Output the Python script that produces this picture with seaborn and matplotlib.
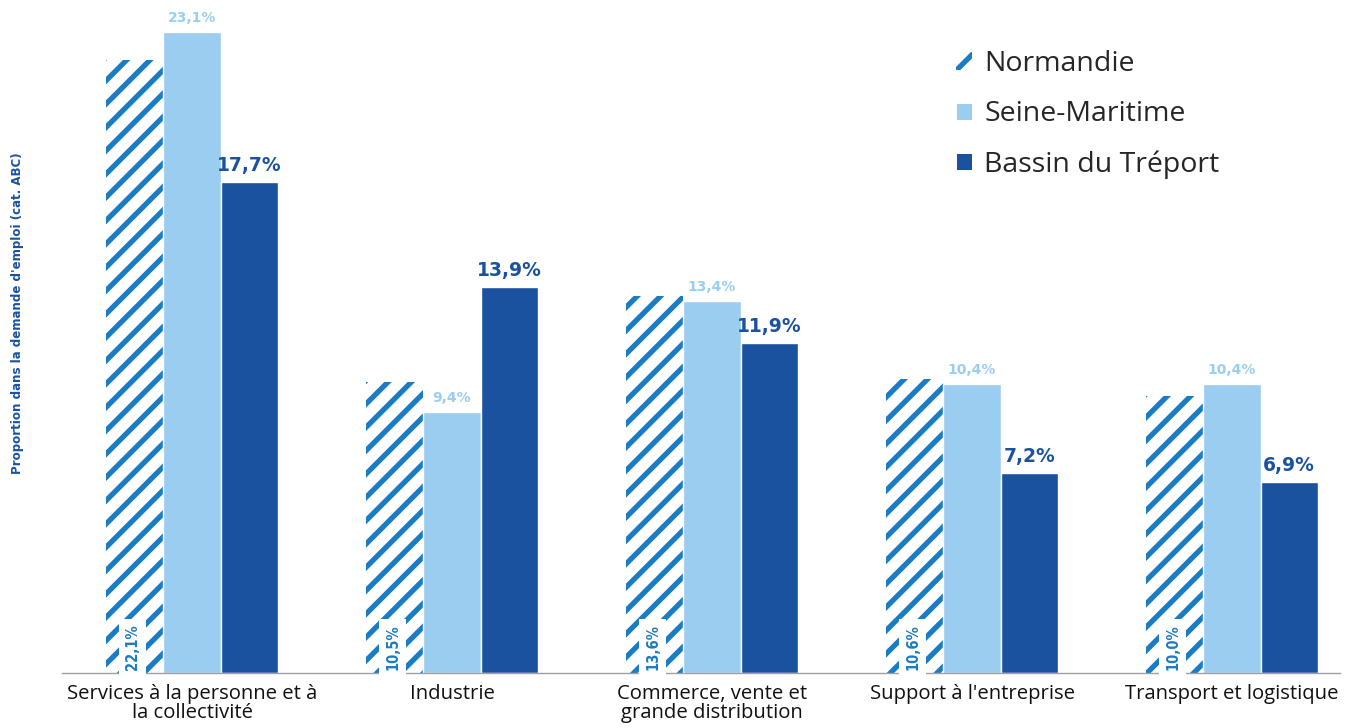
import matplotlib
matplotlib.use("Agg")
import matplotlib.pyplot as plt
import seaborn as sns
import pandas as pd

categories = ["Services à la personne et à\nla collectivité", "Industrie",
              "Commerce, vente et\ngrande distribution", "Support à l'entreprise",
              "Transport et logistique"]
series = ["Normandie", "Seine-Maritime", "Bassin du Tréport"]
normandie = [22.1, 10.5, 13.6, 10.6, 10.0]
seine_maritime = [23.1, 9.4, 13.4, 10.4, 10.4]
bassin = [17.7, 13.9, 11.9, 7.2, 6.9]

hatch_col = "#1a7cc4"
seine_col = "#9bcdf1"
bassin_col = "#1a52a0"

DPI = 70
S = 100 / DPI  # sizes below are expressed for a 100-dpi canvas

rows = []
for s, vals in zip(series, [normandie, seine_maritime, bassin]):
    for c, v in zip(categories, vals):
        rows.append({"cat": c, "serie": s, "val": v})
df = pd.DataFrame(rows)

sns.set_theme(style="white")
plt.rcParams['font.family'] = ['Open Sans', 'DejaVu Sans']
plt.rcParams['hatch.linewidth'] = 3.8 * S

fig = plt.figure(figsize=(1355 / DPI, 728 / DPI), dpi=DPI)
ax = fig.add_axes([62/1355, 1-673/728, 1278/1355, 666/728])

sns.barplot(data=df, x="cat", y="val", hue="serie", order=categories, hue_order=series,
            palette=["white", seine_col, bassin_col], width=0.66, ax=ax,
            saturation=1, legend=True, errorbar=None)

conts = ax.containers
for p in conts[0].patches:
    p.set_facecolor("white")
    p.set_hatch("/")
    p.set_edgecolor(hatch_col)
    p.set_linewidth(0)
for cont in conts[1:]:
    for p in cont.patches:
        p.set_edgecolor("white")
        p.set_linewidth(1 * S)

for p, v in zip(conts[0].patches, normandie):
    ax.text(p.get_x() + p.get_width()/2 - 0.008, 0.1, f"{v:.1f}%".replace(".", ","),
            rotation=90, ha="center", va="bottom", color=hatch_col, fontsize=10.5 * S,
            family="DejaVu Sans", fontstretch="condensed", fontweight="bold",
            bbox=dict(boxstyle="square,pad=0.4", fc="white", ec="none"))
for p, v in zip(conts[1].patches, seine_maritime):
    ax.annotate(f"{v:.1f}%".replace(".", ","), (p.get_x() + p.get_width()/2, v),
                xytext=(0, 5 * S), textcoords="offset points", ha="center", va="bottom",
                color=seine_col, fontsize=10 * S, fontweight="bold", family="DejaVu Sans")
for p, v in zip(conts[2].patches, bassin):
    ax.annotate(f"{v:.1f}%".replace(".", ","), (p.get_x() + p.get_width()/2, v),
                xytext=(0, 5 * S), textcoords="offset points", ha="center", va="bottom",
                color=bassin_col, fontsize=13.5 * S, fontweight="bold", family="DejaVu Sans")

ax.set_xlim(-0.5, -0.5 + 1278/260)
ax.set_ylim(0, 24)
ax.set_yticks([])
ax.set_xlabel("")
ax.set_ylabel("")
fig.text(18/1355, 1-313/728, "Proportion dans la demande d'emploi (cat. ABC)",
         rotation=90, ha="center", va="center", family="DejaVu Sans", fontstretch="condensed",
         fontsize=9.5 * S, fontweight="bold", color=bassin_col)
for s in ["top", "right", "left"]:
    ax.spines[s].set_visible(False)
ax.spines["bottom"].set_color("#a0a0a0")
ax.spines["bottom"].set_linewidth(1 * S)
ax.tick_params(axis="x", length=0, labelsize=14.6 * S, pad=8 * S, labelcolor="#111111")
for lab in ax.get_xticklabels():
    lab.set_linespacing(0.95)

handles, labels = ax.get_legend_handles_labels()
if ax.get_legend() is not None:
    ax.get_legend().remove()
handles[0].set_facecolor("white")
handles[0].set_hatch("/")
handles[0].set_edgecolor(hatch_col)
handles[0].set_linewidth(0)
fig.legend(handles, labels, loc="upper left", bbox_to_anchor=(956/1355, 1-50/728),
           frameon=False, fontsize=20.5 * S, handlelength=0.55, handleheight=0.55,
           labelspacing=0.78, handletextpad=0.45, borderpad=0, borderaxespad=0)

fig.savefig("out.png", dpi=DPI)
